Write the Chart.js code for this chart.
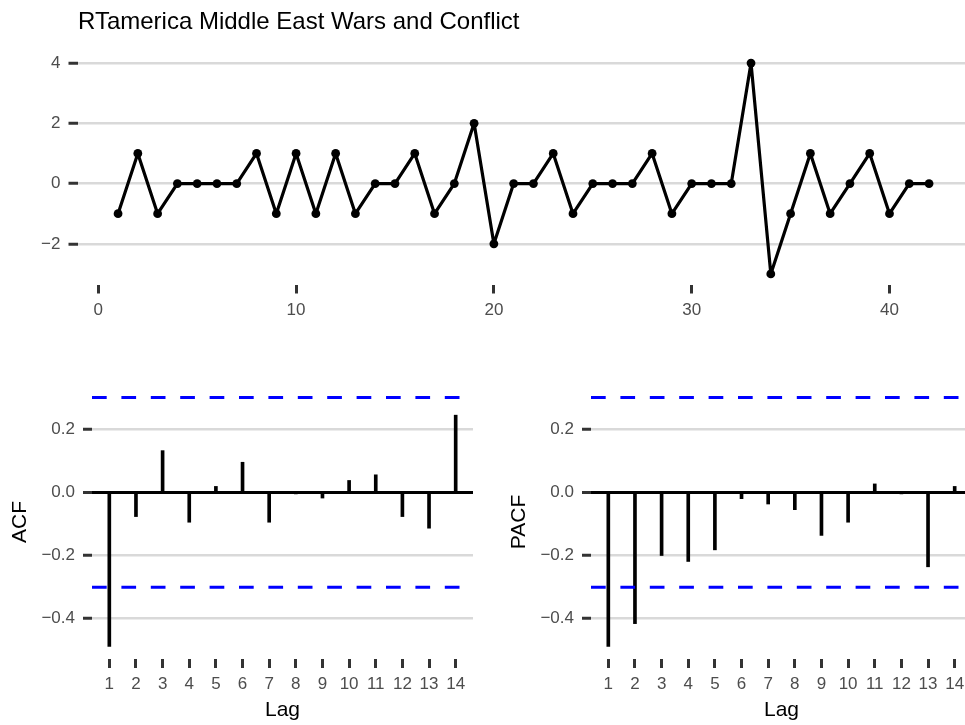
<!DOCTYPE html>
<html>
<head>
<meta charset="utf-8">
<script src="https://cdn.jsdelivr.net/npm/chart.js@4.4.0/dist/chart.umd.min.js"></script>
<style>
  html, body { margin: 0; padding: 0; background: #fff; width: 965px; height: 725px; overflow: hidden; }
  .panel { position: absolute; }
  #title {
    position: absolute; left: 78px; top: 9px; z-index: 2;
    font: 24px 'Liberation Sans', Arial, sans-serif; line-height: 24px;
    color: #000; white-space: nowrap;
  }
</style>
</head>
<body>
<canvas id="seriesChart" class="panel" width="974" height="325" style="left:0;top:0"></canvas>
<canvas id="acfChart" class="panel" width="473" height="385" style="left:0;top:340px"></canvas>
<canvas id="pacfChart" class="panel" width="473" height="385" style="left:499px;top:340px"></canvas>
<div id="title">RTamerica Middle East Wars and Conflict</div>
<script>
// Série temporal (diferenças)
const timeSteps = [1, 2, 3, 4, 5, 6, 7, 8, 9, 10, 11, 12, 13, 14, 15, 16, 17, 18, 19, 20, 21,
                   22, 23, 24, 25, 26, 27, 28, 29, 30, 31, 32, 33, 34, 35, 36, 37, 38, 39, 40, 41, 42];
const seriesValues = [-1, 1, -1, 0, 0, 0, 0, 1, -1, 1, -1, 1, -1, 0, 0, 1, -1, 0, 2, -2, 0,
                      0, 1, -1, 0, 0, 0, 1, -1, 0, 0, 0, 4, -3, -1, 1, -1, 0, 1, -1, 0, 0];
const seriesXTicks = [0, 10, 20, 30, 40];
const seriesYTicks = [-2, 0, 2, 4];

// ACF / PACF
const lags = [1, 2, 3, 4, 5, 6, 7, 8, 9, 10, 11, 12, 13, 14];
const acfValues = [-0.491, -0.077, 0.133, -0.095, 0.019, 0.096, -0.095, -0.003, -0.018, 0.038, 0.056, -0.077, -0.114, 0.246];
const pacfValues = [-0.491, -0.418, -0.201, -0.220, -0.183, -0.020, -0.037, -0.055, -0.137, -0.095, 0.027, -0.002, -0.237, 0.019];
const corrYTicks = [-0.4, -0.2, 0, 0.2];
const ciBound = 0.3024;

const FONT = "'Liberation Sans', Arial, sans-serif";
Chart.defaults.font.family = FONT;
Chart.defaults.font.size = 17;
Chart.defaults.color = '#4d4d4d';
Chart.defaults.animation = false;

const GRID = '#d9d9d9';
const TICK = '#333333';

function useTicks(values) {
    return scale => { scale.ticks = values.map(v => ({ value: v })); };
}
function fixedWidth(w) {
    return scale => { scale.width = w; };
}
function fixedHeight(h) {
    return scale => { scale.height = h; };
}
function minusLabel(digits) {
    return v => (v < -1e-9 ? '\u2212' : '') + Math.abs(v).toFixed(digits);
}

// linhas tracejadas azuis do intervalo de confiança
const ciLinesPlugin = {
    id: 'ciLines',
    afterDatasetsDraw(chart) {
        const { ctx, chartArea, scales } = chart;
        ctx.save();
        ctx.strokeStyle = '#0000ff';
        ctx.lineWidth = 3;
        ctx.setLineDash([14.7, 14.7]);
        [ciBound, -ciBound].forEach(v => {
            const y = scales.y.getPixelForValue(v);
            ctx.beginPath();
            ctx.moveTo(chartArea.left, y);
            ctx.lineTo(chartArea.right, y);
            ctx.stroke();
        });
        ctx.restore();
    }
};

function renderSeries() {
    new Chart(document.getElementById('seriesChart'), {
        type: 'line',
        data: {
            datasets: [{
                data: timeSteps.map((t, i) => ({ x: t, y: seriesValues[i] })),
                borderColor: '#000',
                borderWidth: 3.2,
                borderJoinStyle: 'round',
                borderCapStyle: 'round',
                pointRadius: 4.4,
                pointBackgroundColor: '#000',
                pointBorderWidth: 0,
                tension: 0
            }]
        },
        options: {
            responsive: false,
            layout: { padding: { top: 52.5, left: 0, right: 0, bottom: 0 } },
            plugins: { legend: { display: false }, tooltip: { enabled: false } },
            scales: {
                x: {
                    type: 'linear', min: -1.05, max: 44.05,
                    afterBuildTicks: useTicks(seriesXTicks),
                    afterFit: fixedHeight(40.5),
                    border: { display: false },
                    grid: { drawOnChartArea: false, tickColor: TICK, tickWidth: 3, tickLength: 9 },
                    ticks: { padding: 7, callback: v => String(v) }
                },
                y: {
                    min: -3.35, max: 4.35,
                    afterBuildTicks: useTicks(seriesYTicks),
                    afterFit: fixedWidth(77.5),
                    border: { display: false },
                    grid: { color: GRID, lineWidth: 2.5, tickColor: TICK, tickWidth: 3, tickLength: 9 },
                    ticks: { padding: 8, callback: minusLabel(0) }
                }
            }
        }
    });
}

function renderCorrelogram(canvasId, values, yLabel) {
    new Chart(document.getElementById(canvasId), {
        type: 'bar',
        data: {
            datasets: [{
                data: lags.map((l, i) => ({ x: l, y: values[i] })),
                backgroundColor: '#000',
                barThickness: 3,
                borderWidth: 0
            }]
        },
        options: {
            responsive: false,
            layout: { padding: { top: 45, left: 0, right: 0, bottom: 0 } },
            plugins: { legend: { display: false }, tooltip: { enabled: false } },
            scales: {
                x: {
                    type: 'linear', min: 0.35, max: 14.65, offset: false,
                    afterBuildTicks: useTicks(lags),
                    afterFit: fixedHeight(66),
                    border: { display: false },
                    title: { display: true, text: 'Lag', color: '#000', font: { size: 21 }, padding: { top: 0, bottom: 2.5 } },
                    grid: { offset: false, drawOnChartArea: false, tickColor: TICK, tickWidth: 3, tickLength: 9 },
                    ticks: { padding: 6, callback: v => String(v) }
                },
                y: {
                    min: -0.5307, max: 0.3421,
                    afterBuildTicks: useTicks(corrYTicks),
                    afterFit: fixedWidth(92),
                    border: { display: false },
                    title: { display: true, text: yLabel, color: '#000', font: { size: 21 }, padding: { top: 8, bottom: 0 } },
                    grid: {
                        color: c => (c.tick && Math.abs(c.tick.value) < 1e-9 ? '#000' : GRID),
                        lineWidth: c => (c.tick && Math.abs(c.tick.value) < 1e-9 ? 3 : 2.5),
                        tickColor: TICK, tickWidth: 3, tickLength: 9
                    },
                    ticks: { padding: 8, callback: minusLabel(1) }
                }
            }
        },
        plugins: [ciLinesPlugin]
    });
}

renderSeries();
renderCorrelogram('acfChart', acfValues, 'ACF');
renderCorrelogram('pacfChart', pacfValues, 'PACF');
</script>
</body>
</html>
